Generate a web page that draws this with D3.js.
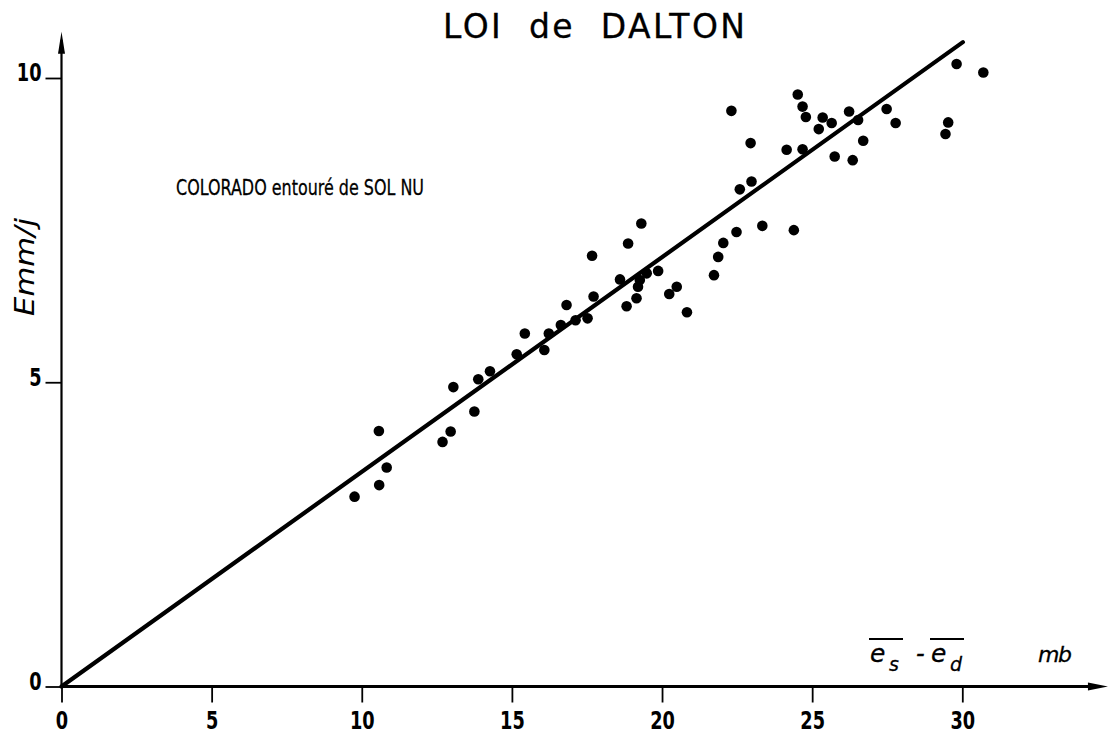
<!DOCTYPE html>
<html><head><meta charset="utf-8">
<script src="https://cdn.jsdelivr.net/npm/d3@7/dist/d3.min.js"></script>
<style>
html,body{margin:0;padding:0;background:#fff;}
text{font-family:"DejaVu Sans",sans-serif;fill:#000;}
</style></head>
<body>
<svg id="c" width="1111" height="746"></svg>
<script>
const esMinusEd = [9.76,10.57,10.58,10.83,12.69,12.96,13.05,13.75,13.88,14.27,15.16,15.43,16.08,16.23,16.63,16.82,17.12,17.52,17.67,17.72,18.60,18.82,18.87,19.15,19.20,19.26,19.49,19.31,19.87,20.24,20.49,20.83,21.73,21.87,22.04,22.48,22.31,22.59,22.98,22.95,23.34,24.15,24.39,24.52,24.68,24.79,24.68,25.22,25.35,25.65,25.75,26.23,26.35,26.53,26.70,27.48,27.78,29.44,29.53,29.81,30.70];
const evapMmDay = [3.12,4.20,3.31,3.60,4.02,4.19,4.92,4.52,5.05,5.18,5.46,5.80,5.53,5.80,5.94,6.27,6.02,6.05,7.08,6.41,6.69,6.25,7.28,6.38,6.57,6.68,6.79,7.61,6.83,6.45,6.57,6.15,6.76,7.06,7.29,7.47,9.46,8.17,8.30,8.93,7.57,8.82,7.50,9.73,9.53,9.36,8.83,9.16,9.35,9.26,8.71,9.45,8.65,9.31,8.97,9.49,9.26,9.08,9.27,10.23,10.09];
const fitX = [0, 30.02];
const fitY = [0, 10.59];
const xTicks = [0,5,10,15,20,25,30];
const yTicks = [0,5,10];
const axisMax = {x: 34.85, y: 10.76};

const svg = d3.select("#c");
const x = d3.scaleLinear().domain([0,30]).range([61.5,962.3]);
const y = d3.scaleLinear().domain([0,10]).range([686.5,78]);

// x axis
const gx = svg.append("g").attr("transform",`translate(0,${y(0)})`)
  .call(d3.axisBottom(x).tickValues(xTicks).tickSize(16).tickPadding(7).tickFormat(d3.format("d")));
gx.select(".domain").remove();
gx.selectAll(".tick line").attr("stroke","#000").attr("stroke-width",1.8);
gx.selectAll(".tick text").attr("font-size",24).attr("font-weight","bold").attr("dy","0.82em")
  .attr("transform","scale(0.74,1)").attr("x",0);

// y axis
const gy = svg.append("g").attr("transform",`translate(${x(0)},0)`)
  .call(d3.axisLeft(y).tickValues(yTicks).tickSize(16).tickPadding(4).tickFormat(d3.format("d")));
gy.select(".domain").remove();
gy.selectAll(".tick line").attr("stroke","#000").attr("stroke-width",1.8);
gy.selectAll(".tick text").attr("font-size",24).attr("font-weight","bold").attr("dy","0.12em");
gy.selectAll(".tick text").each(function(){
  const t = d3.select(this); const bx = +t.attr("x");
  t.attr("transform",`translate(${bx*0.26},0) scale(0.74,1)`);
});

// axis lines with arrows
svg.append("line").attr("x1",x(0)).attr("x2",x(axisMax.x)-8).attr("y1",y(0)).attr("y2",y(0))
  .attr("stroke","#000").attr("stroke-width",2.8);
svg.append("path").attr("d",`M${x(axisMax.x)},${y(0)} L${x(axisMax.x)-20},${y(0)-4} L${x(axisMax.x)-20},${y(0)+4} Z`).attr("fill","#000");
svg.append("line").attr("x1",x(0)).attr("x2",x(0)).attr("y1",y(0)).attr("y2",y(axisMax.y)+8)
  .attr("stroke","#000").attr("stroke-width",2.2);
svg.append("path").attr("d",`M${x(0)},${y(axisMax.y)} L${x(0)-3.5},${y(axisMax.y)+22} L${x(0)+3.5},${y(axisMax.y)+22} Z`).attr("fill","#000");

// fit line
svg.append("line").attr("x1",x(fitX[0])).attr("y1",y(fitY[0])).attr("x2",x(fitX[1])).attr("y2",y(fitY[1]))
  .attr("stroke","#000").attr("stroke-width",4.2).attr("stroke-linecap","round");

// points
svg.append("g").selectAll("circle").data(esMinusEd).join("circle")
  .attr("cx",(d)=>x(d)).attr("cy",(d,i)=>y(evapMmDay[i])).attr("r",5.3).attr("fill","#000");

// title
svg.append("text").attr("x",443).attr("y",38)
  .attr("font-size",33).attr("stroke","#000").attr("stroke-width",0.3)
  .attr("textLength",302).attr("lengthAdjust","spacing")
  .attr("xml:space","preserve").text("LOI  de  DALTON");

// subtitle
svg.append("text").attr("x",176).attr("y",195).attr("font-size",22).attr("stroke","#000").attr("stroke-width",0.3)
  .attr("textLength",248).attr("lengthAdjust","spacingAndGlyphs")
  .text("COLORADO entouré de SOL NU");

// y label
svg.append("text").attr("transform","translate(34,267) rotate(-90)").attr("text-anchor","middle")
  .attr("font-size",27).attr("font-style","italic").attr("textLength",98).attr("lengthAdjust","spacingAndGlyphs")
  .text("Emm/j");

// x label with overlines
const xl = svg.append("g");
function part(t, px, py, fs){ return xl.append("text").attr("x",px).attr("y",py).attr("font-size",fs).attr("font-style","italic").attr("stroke","#000").attr("stroke-width",0.3).text(t); }
part("e",870,662,25);
part("s",889,671,19);
part("-",916,662,24);
part("e",931,662,25);
part("d",950,671,19);
part("m",1038,662,22);
part("b",1058,662,22);
[[869,903],[930,964]].forEach(([a,b])=>{
  xl.append("line").attr("x1",a).attr("x2",b).attr("y1",639).attr("y2",639).attr("stroke","#000").attr("stroke-width",2.2);
});
</script>
</body></html>
